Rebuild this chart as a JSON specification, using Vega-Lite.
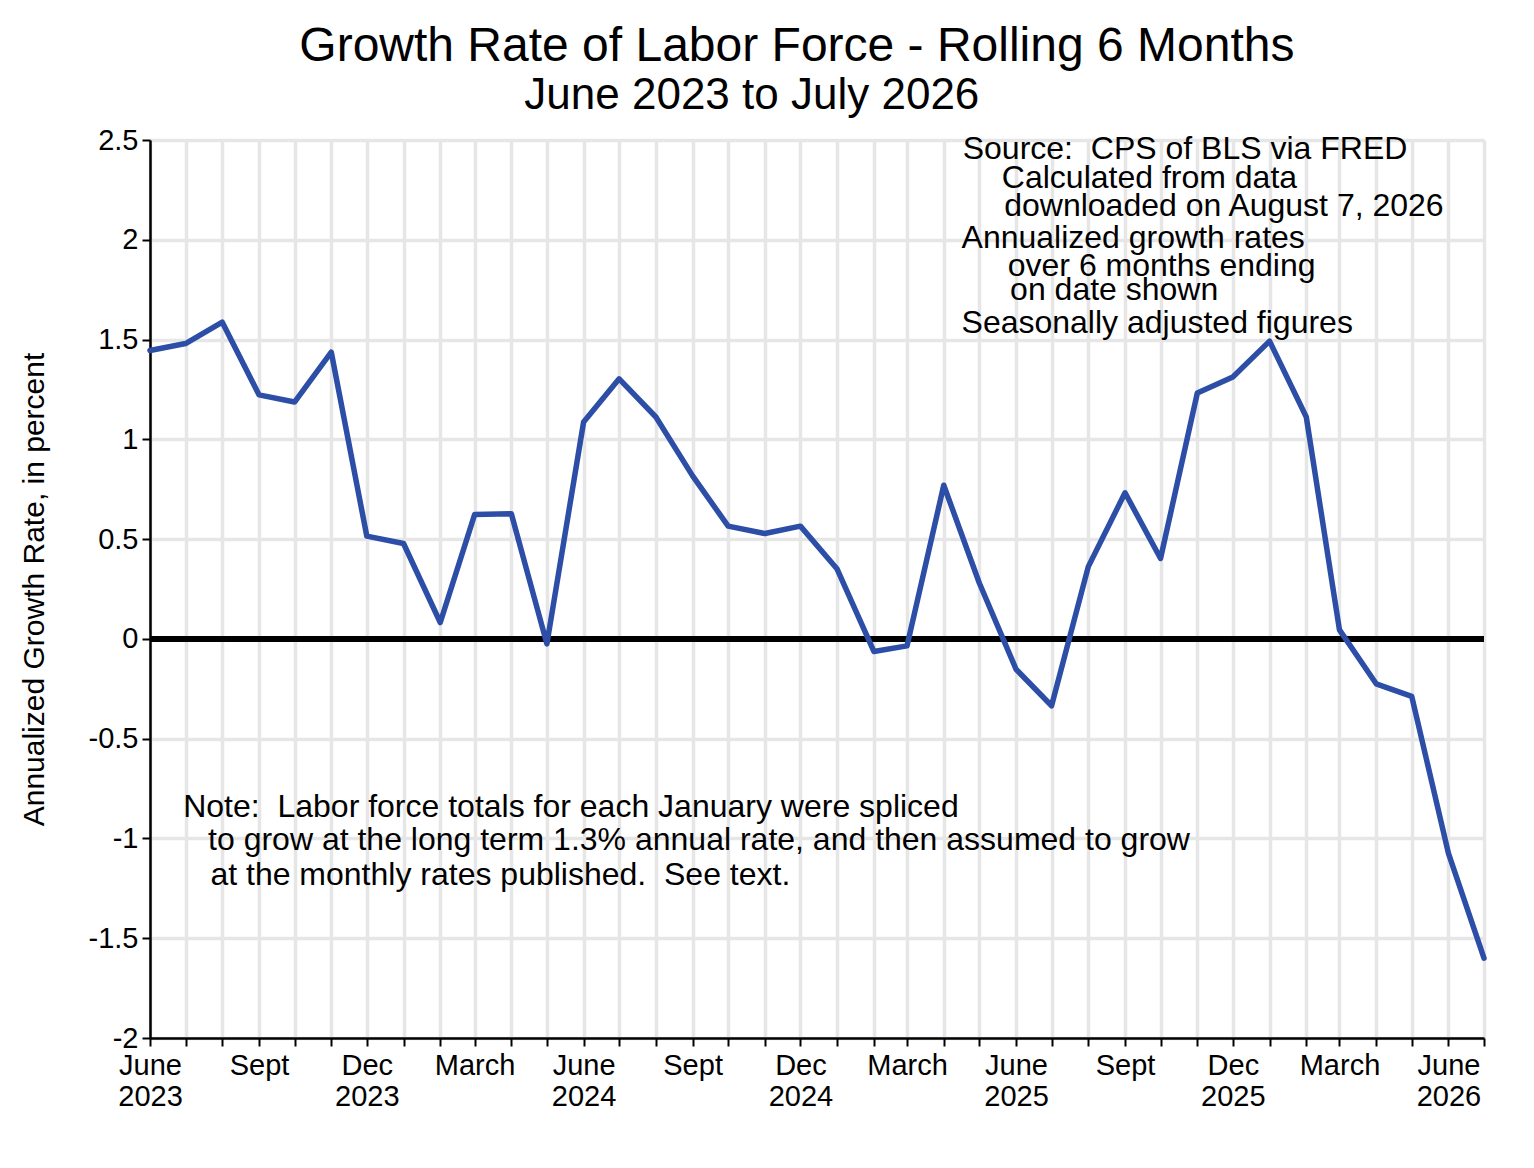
{
  "$schema": "https://vega.github.io/schema/vega-lite/v6.json",
  "width": 1334,
  "height": 898,
  "autosize": {"type": "none"},
  "padding": {"left": 150, "top": 140, "right": 50, "bottom": 130},
  "background": "white",
  "config": {
    "view": {"stroke": null},
    "font": "Liberation Sans",
    "axis": {
      "domainColor": "black",
      "domainWidth": 2.5,
      "tickColor": "black",
      "tickWidth": 2,
      "tickSize": 8,
      "grid": true,
      "gridColor": "#e6e6e6",
      "gridWidth": 3.5,
      "labelColor": "black",
      "labelFontSize": 29,
      "titleColor": "black",
      "titleFontWeight": "normal"
    }
  },
  "datasets": {
    "rates": [
      {"date": "2023-06-01", "rate": 1.445},
      {"date": "2023-07-01", "rate": 1.48},
      {"date": "2023-08-01", "rate": 1.587},
      {"date": "2023-09-01", "rate": 1.223},
      {"date": "2023-10-01", "rate": 1.187},
      {"date": "2023-11-01", "rate": 1.437},
      {"date": "2023-12-01", "rate": 0.515},
      {"date": "2024-01-01", "rate": 0.478},
      {"date": "2024-02-01", "rate": 0.082},
      {"date": "2024-03-01", "rate": 0.623},
      {"date": "2024-04-01", "rate": 0.627},
      {"date": "2024-05-01", "rate": -0.025},
      {"date": "2024-06-01", "rate": 1.087},
      {"date": "2024-07-01", "rate": 1.303},
      {"date": "2024-08-01", "rate": 1.112},
      {"date": "2024-09-01", "rate": 0.817},
      {"date": "2024-10-01", "rate": 0.565},
      {"date": "2024-11-01", "rate": 0.528},
      {"date": "2024-12-01", "rate": 0.565},
      {"date": "2025-01-01", "rate": 0.35},
      {"date": "2025-02-01", "rate": -0.063},
      {"date": "2025-03-01", "rate": -0.035},
      {"date": "2025-04-01", "rate": 0.77},
      {"date": "2025-05-01", "rate": 0.28},
      {"date": "2025-06-01", "rate": -0.152},
      {"date": "2025-07-01", "rate": -0.335},
      {"date": "2025-08-01", "rate": 0.362},
      {"date": "2025-09-01", "rate": 0.732},
      {"date": "2025-10-01", "rate": 0.403},
      {"date": "2025-11-01", "rate": 1.232},
      {"date": "2025-12-01", "rate": 1.312},
      {"date": "2026-01-01", "rate": 1.492},
      {"date": "2026-02-01", "rate": 1.112},
      {"date": "2026-03-01", "rate": 0.045},
      {"date": "2026-04-01", "rate": -0.225},
      {"date": "2026-05-01", "rate": -0.288},
      {"date": "2026-06-01", "rate": -1.075},
      {"date": "2026-07-01", "rate": -1.6}
    ],
    "notes": [
      {"label": "Source:\u00a0 CPS of BLS via FRED", "date": "2025-04-17", "value": 2.405},
      {"label": "Calculated from data", "date": "2025-05-20", "value": 2.26},
      {"label": "downloaded on August 7, 2026", "date": "2025-05-22", "value": 2.119},
      {"label": "Annualized growth rates", "date": "2025-04-16", "value": 1.959},
      {"label": "over 6 months ending", "date": "2025-05-25", "value": 1.819},
      {"label": "on date shown", "date": "2025-05-27", "value": 1.698},
      {"label": "Seasonally adjusted figures", "date": "2025-04-16", "value": 1.533},
      {"label": "Note:\u00a0 Labor force totals for each January were spliced", "date": "2023-06-29", "value": -0.892},
      {"label": "to grow at the long term 1.3% annual rate, and then assumed to grow", "date": "2023-07-20", "value": -1.057},
      {"label": "at the monthly rates published.\u00a0 See text.", "date": "2023-07-22", "value": -1.232}
    ],
    "heading": [
      {"label": "Growth Rate of Labor Force - Rolling 6 Months", "date": "2024-11-28", "value": 2.896}
    ],
    "subheading": [
      {"label": "June 2023 to July 2026", "date": "2024-10-21", "value": 2.653}
    ]
  },
  "layer": [
    {
      "data": {"name": "rates"},
      "mark": {"type": "rule", "color": "black", "strokeWidth": 4.5},
      "encoding": {
        "y": {"datum": 0, "type": "quantitative", "title": "Annualized Growth Rate, in percent"}
      }
    },
    {
      "data": {"name": "rates"},
      "mark": {"type": "line", "color": "#2d4ea6", "strokeWidth": 5.5, "strokeCap": "round", "strokeJoin": "round"},
      "encoding": {
        "x": {
          "field": "date",
          "type": "temporal",
          "title": null,
          "scale": {
            "type": "utc",
            "domain": [
              {"year": 2023, "month": 6, "date": 1, "utc": true},
              {"year": 2026, "month": 7, "date": 1, "utc": true}
            ],
            "nice": false
          },
          "axis": {
            "grid": true,
            "tickCount": {"interval": "month", "step": 1},
            "labelOverlap": false,
            "labelFlush": false,
            "labelPadding": 5,
            "labelLineHeight": 31,
            "labelExpr": "utcmonth(datum.value) == 5 ? ['June', '' + utcyear(datum.value)] : utcmonth(datum.value) == 11 ? ['Dec', '' + utcyear(datum.value)] : utcmonth(datum.value) == 8 ? 'Sept' : utcmonth(datum.value) == 2 ? 'March' : ''"
          }
        },
        "y": {
          "field": "rate",
          "type": "quantitative",
          "title": "Annualized Growth Rate, in percent",
          "scale": {"domain": [-2, 2.5], "nice": false, "zero": false},
          "axis": {
            "grid": true,
            "titleFontSize": 30,
            "titlePadding": 39,
            "values": [-2, -1.5, -1, -0.5, 0, 0.5, 1, 1.5, 2, 2.5],
            "labelPadding": 4,
            "labelExpr": "'' + datum.value"
          }
        }
      }
    },
    {
      "data": {"name": "notes"},
      "mark": {"type": "text", "align": "left", "baseline": "alphabetic", "fontSize": 32, "color": "black"},
      "encoding": {
        "x": {"field": "date", "type": "temporal", "title": null},
        "y": {"field": "value", "type": "quantitative", "title": "Annualized Growth Rate, in percent"},
        "text": {"field": "label"}
      }
    },
    {
      "data": {"name": "heading"},
      "mark": {"type": "text", "align": "center", "baseline": "alphabetic", "fontSize": 48, "color": "black"},
      "encoding": {
        "x": {"field": "date", "type": "temporal", "title": null},
        "y": {"field": "value", "type": "quantitative", "title": "Annualized Growth Rate, in percent"},
        "text": {"field": "label"}
      }
    },
    {
      "data": {"name": "subheading"},
      "mark": {"type": "text", "align": "center", "baseline": "alphabetic", "fontSize": 44, "color": "black"},
      "encoding": {
        "x": {"field": "date", "type": "temporal", "title": null},
        "y": {"field": "value", "type": "quantitative", "title": "Annualized Growth Rate, in percent"},
        "text": {"field": "label"}
      }
    }
  ]
}
